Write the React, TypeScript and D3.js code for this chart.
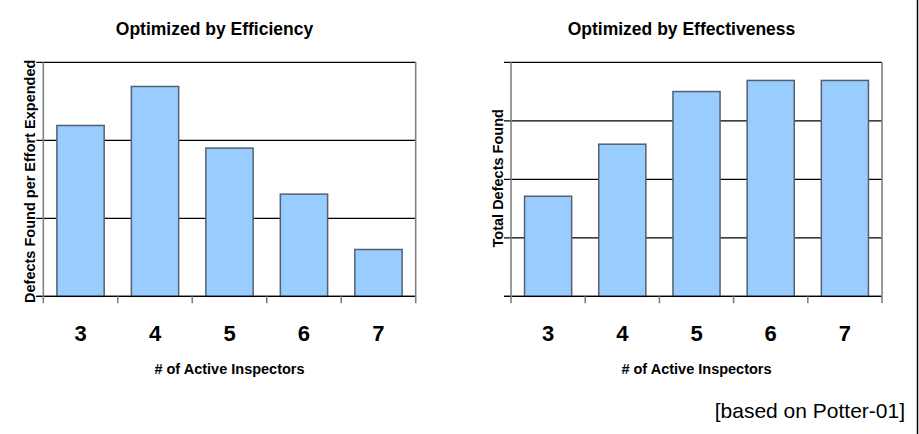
import { useEffect, useRef } from 'react';
import * as d3 from 'd3';

const inspectors = ['3', '4', '5', '6', '7'];
const efficiency = [2.19, 2.69, 1.9, 1.31, 0.6];
const effectiveness = [1.71, 2.6, 3.5, 3.69, 3.69];
const efficiencyTicks = [0, 1, 2, 3];
const effectivenessTicks = [0, 1, 2, 3, 4];

const FONT = 'Arial, "Liberation Sans", Helvetica, sans-serif';

interface PanelSpec {
  title: string;
  yLabel: string;
  values: number[];
  ticks: number[];
  x0: number;
  x1: number;
}

const panels: PanelSpec[] = [
  {
    title: 'Optimized by Efficiency',
    yLabel: 'Defects Found per Effort Expended',
    values: efficiency,
    ticks: efficiencyTicks,
    x0: 43.3,
    x1: 415.7,
  },
  {
    title: 'Optimized by Effectiveness',
    yLabel: 'Total Defects Found',
    values: effectiveness,
    ticks: effectivenessTicks,
    x0: 511,
    x1: 882,
  },
];

export default function App() {
  const svgRef = useRef<SVGSVGElement>(null);

  useEffect(() => {
    if (!svgRef.current) return;
    const svg = d3.select(svgRef.current);
    svg.selectAll('*').remove();

    const top = 62.3;
    const bottom = 296.3;

    panels.forEach((p) => {
      const g = svg.append('g');
      const x = d3.scaleBand<string>().domain(inspectors).range([p.x0, p.x1]).padding(0);
      const y = d3
        .scaleLinear()
        .domain([0, d3.max(p.ticks)!])
        .range([bottom, top]);

      // gridlines with left ticks
      g.selectAll('.grid')
        .data(p.ticks)
        .enter()
        .append('line')
        .attr('x1', p.x0 - 7)
        .attr('x2', p.x1)
        .attr('y1', (d) => y(d))
        .attr('y2', (d) => y(d))
        .attr('stroke', '#000')
        .attr('stroke-width', 1.2);

      // bars
      const bw = x.bandwidth() * 0.635;
      g.selectAll('.bar')
        .data(p.values)
        .enter()
        .append('rect')
        .attr('x', (_, i) => x(inspectors[i])! + (x.bandwidth() - bw) / 2)
        .attr('y', (d) => y(d))
        .attr('width', bw)
        .attr('height', (d) => bottom - y(d))
        .attr('fill', '#99ccff')
        .attr('stroke', '#56606c')
        .attr('stroke-width', 1.5);

      // baseline
      g.append('line')
        .attr('x1', p.x0 - 7)
        .attr('x2', p.x1)
        .attr('y1', bottom)
        .attr('y2', bottom)
        .attr('stroke', '#000')
        .attr('stroke-width', 1.3);

      // category boundary ticks
      const bounds = [...inspectors.map((c) => x(c)!), p.x1];
      g.selectAll('.ctick')
        .data(bounds)
        .enter()
        .append('line')
        .attr('x1', (d) => d)
        .attr('x2', (d) => d)
        .attr('y1', (_, i) => (i === 0 || i === bounds.length - 1 ? top : bottom))
        .attr('y2', bottom + 7)
        .attr('stroke', '#808080')
        .attr('stroke-width', 1.6);

      // category labels
      g.selectAll('.clabel')
        .data(inspectors)
        .enter()
        .append('text')
        .attr('x', (d) => x(d)! + x.bandwidth() / 2)
        .attr('y', 341)
        .attr('text-anchor', 'middle')
        .attr('font-family', FONT)
        .attr('font-weight', 'bold')
        .attr('font-size', '22px')
        .attr('fill', '#000')
        .text((d) => d);

      const cx = (p.x0 + p.x1) / 2;
      g.append('text')
        .attr('x', cx)
        .attr('y', 374)
        .attr('text-anchor', 'middle')
        .attr('font-family', FONT)
        .attr('font-weight', 'bold')
        .attr('font-size', '14.5px')
        .text('# of Active Inspectors');

      g.append('text')
        .attr('x', cx - 15)
        .attr('y', 35)
        .attr('text-anchor', 'middle')
        .attr('font-family', FONT)
        .attr('font-weight', 'bold')
        .attr('font-size', '17.5px')
        .text(p.title);

      const ly = (top + bottom) / 2 + (p.x0 < 100 ? 2 : -1);
      g.append('text')
        .attr('transform', `translate(${p.x0 - 8.5},${ly}) rotate(-90)`)
        .attr('text-anchor', 'middle')
        .attr('font-family', FONT)
        .attr('font-weight', 'bold')
        .attr('font-size', '14.5px')
        .text(p.yLabel);
    });

    svg
      .append('text')
      .attr('x', 905)
      .attr('y', 418)
      .attr('text-anchor', 'end')
      .attr('font-family', FONT)
      .attr('font-size', '21px')
      .text('[based on Potter-01]');

    svg
      .append('line')
      .attr('x1', 917.5)
      .attr('x2', 917.5)
      .attr('y1', 0)
      .attr('y2', 434)
      .attr('stroke', '#000')
      .attr('stroke-width', 1.5);
  }, []);

  return (
    <svg
      ref={svgRef}
      width={919}
      height={434}
      style={{ position: 'absolute', left: 0, top: 0, background: '#fff' }}
      role="img"
      aria-label="Inspector optimization bar charts"
    />
  );
}
